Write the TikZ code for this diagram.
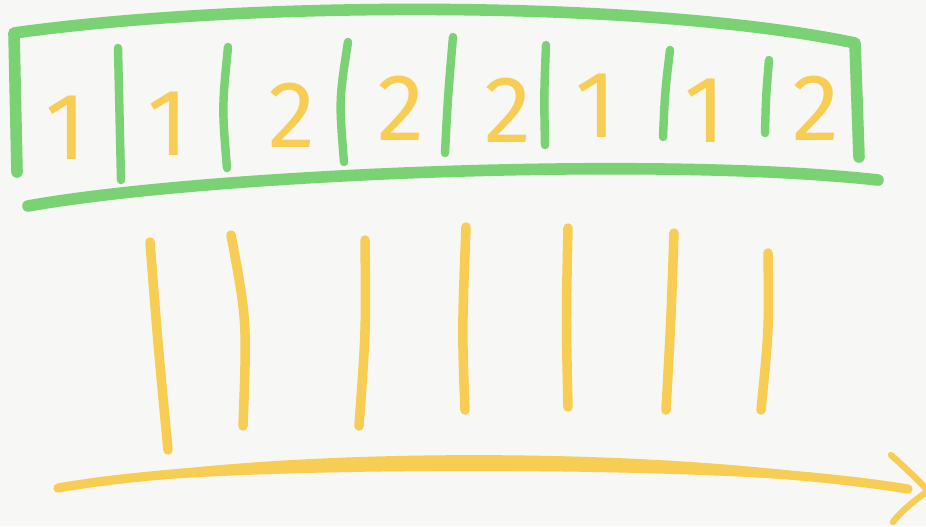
\documentclass[tikz,border=0pt]{standalone}
\usepackage{fontspec}
\usepackage{tikz}
\usetikzlibrary{arrows.meta,positioning}
\newfontfamily\sketchdigits{Fira Sans}
\definecolor{paper}{RGB}{247,247,245}
\definecolor{sketchgreen}{RGB}{123,210,117}
\definecolor{sketchyellow}{RGB}{247,205,84}
\tikzset{
  frameline/.style={draw=sketchgreen, line width=3.3pt, line cap=round, line join=round},
  cellwall/.style={draw=sketchgreen, line width=2.4pt, line cap=round},
  tally/.style={draw=sketchyellow, line width=2.7pt, line cap=round},
  digit/.style={text=sketchyellow, inner sep=0pt, font=\sketchdigits\fontsize{27}{32}\selectfont},
  timeline/.style={draw=sketchyellow, line width=2.6pt, line cap=round},
  timehead/.style={draw=sketchyellow, line width=1.8pt, line cap=round, line join=round},
}

\begin{document}
\begin{tikzpicture}[x=0.01cm, y=-0.01cm]
  \fill[paper] (0,0) rectangle (926,526);
  \useasboundingbox (0,0) rectangle (926,526);
  % the array
  \draw[frameline] (17,172) -- (14,33) .. controls (250,0) and (650,0) .. (855,43) -- (859,157);
  \draw[frameline] (28,206) .. controls (200,175) and (650,155) .. (878,180);
  \foreach \xa/\ya/\xc/\yc/\xb/\yb in {118/48/119/114/121/180, 228/47/222/108/227/168,
                                      348/42/339/100/344/162, 453/37/448/95/445/153,
                                      546/45/544/95/545/145, 670/50/665/92/663/137,
                                      769/60/766/96/765/133}
    \draw[cellwall] (\xa,\ya) .. controls (\xc,\yc) .. (\xb,\yb);
  \foreach \x/\y/\name/\val in {66/128/d1/1, 168/124/d2/1, 292/115/d3/2, 401/108/d4/2,
                                508/110/d5/2, 596/106/d6/1, 705/111/d7/1, 816/108/d8/2}
    \node[digit] (\name) at (\x,\y) {\val};
  % the strokes below
  \foreach \xa/\ya/\xc/\yc/\xb/\yb in {150/242/158/345/168/450, 231/235/247/320/243/426,
                                      365/240/366/330/359/426, 466/227/462/330/465/410,
                                      568/228/566/320/568/407, 674/233/671/320/666/410,
                                      768/253/769/330/761/410}
    \draw[tally] (\xa,\ya) .. controls (\xc,\yc) .. (\xb,\yb);
  % time axis
  \coordinate (tstart) at (58,488);
  \coordinate (tend) at (908,489);
  \fill[sketchyellow] (tstart) .. controls (250,444) and (700,444) .. (tend)
    .. controls (700,465) and (250,465) .. (tstart) -- cycle;
  \draw[timeline] (tstart) .. controls (250,454) and (700,455) .. (tend);
  \draw[timehead] (891,455) .. controls (910,472) and (922,484) .. (928,491)
    .. controls (915,500) and (900,512) .. (893,522);
\end{tikzpicture}
\end{document}
